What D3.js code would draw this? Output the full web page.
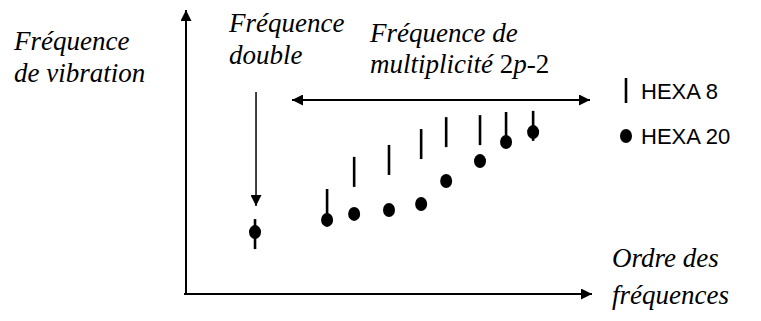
<!DOCTYPE html>
<html><head><meta charset="utf-8">
<script src="https://cdn.jsdelivr.net/npm/d3@7"></script>
<style>
html,body{margin:0;padding:0;background:#fff;}
svg{display:block;}
</style></head>
<body>
<svg id="c" width="761" height="321"></svg>
<script>
// Data (order of frequency, vibration frequency) in arbitrary units
const ordre = [2.04, 4.17, 4.97, 6.0, 6.95, 7.69, 8.69, 9.46, 10.26];
const hexa20 = [2.18, 2.61, 2.82, 2.96, 3.17, 3.98, 4.68, 5.35, 5.70];
const hexa8 = [2.11, 3.17, 4.30, 4.72, 5.28, 5.70, 5.77, 5.88, 5.92];
const seriesNames = ["HEXA 8", "HEXA 20"];

const SERIF = "'Liberation Serif'";
const SANS = "'Liberation Sans'";

const svg = d3.select("#c");
const x = d3.scaleLinear().domain([0, 12]).range([186, 592]);
const y = d3.scaleLinear().domain([0, 10]).range([294, 10]);

const defs = svg.append("defs");
function marker(id, w, h) {
  defs.append("marker").attr("id", id).attr("viewBox", "0 0 10 10")
    .attr("refX", 10).attr("refY", 5).attr("markerUnits", "userSpaceOnUse")
    .attr("markerWidth", w).attr("markerHeight", h).attr("orient", "auto-start-reverse")
    .append("path").attr("d", "M0,0L10,5L0,10Z").attr("fill", "#000");
}
marker("ah", 13, 11);

// axes
svg.append("line").attr("x1", x(0)).attr("y1", y(0)+1).attr("x2", x(0)).attr("y2", y(10))
  .attr("stroke", "#000").attr("stroke-width", 2).attr("marker-end", "url(#ah)");
svg.append("line").attr("x1", x(0)-2).attr("y1", y(0)).attr("x2", x(12)).attr("y2", y(0))
  .attr("stroke", "#000").attr("stroke-width", 2).attr("marker-end", "url(#ah)");

// HEXA 8 : vertical bars
svg.append("g").selectAll("line").data(ordre).join("line")
  .attr("x1", d => x(d)).attr("x2", d => x(d))
  .attr("y1", (d, i) => y(hexa8[i]) - 15).attr("y2", (d, i) => y(hexa8[i]) + 15)
  .attr("stroke", "#000").attr("stroke-width", 2.6);
// HEXA 20 : dots
svg.append("g").selectAll("ellipse").data(ordre).join("ellipse")
  .attr("cx", d => x(d)).attr("cy", (d, i) => y(hexa20[i]))
  .attr("rx", 6).attr("ry", 7).attr("fill", "#000");

// annotation arrows
svg.append("line").attr("x1", x(ordre[0]) + 1).attr("y1", 92).attr("x2", x(ordre[0]) + 1).attr("y2", 206)
  .attr("stroke", "#000").attr("stroke-width", 1.5).attr("marker-end", "url(#ah)");
svg.append("line").attr("x1", 292).attr("y1", 100).attr("x2", 590).attr("y2", 100)
  .attr("stroke", "#000").attr("stroke-width", 2)
  .attr("marker-end", "url(#ah)").attr("marker-start", "url(#ah)");

// texts
function ann(xp, yp, lines, lh) {
  const t = svg.append("text").attr("x", xp).attr("y", yp)
    .attr("font-family", SERIF).attr("font-style", "italic").attr("font-size", 27).attr("fill", "#000");
  lines.forEach((l, i) => {
    const ts = t.append("tspan").attr("x", xp).attr("dy", i ? lh : 0);
    if (Array.isArray(l)) l.forEach(p => ts.append("tspan").attr("font-style", p[1] ? "italic" : "normal").text(p[0]));
    else ts.text(l);
  });
}
ann(14, 50, ["Fréquence", "de vibration"], 32);
ann(229, 32, ["Fréquence", "double"], 32);
ann(370, 42, ["Fréquence de", [["multiplicité ", 1], ["2", 0], ["p", 1], ["-2", 0]]], 31);
ann(612, 267, ["Ordre des", "fréquences"], 37);

// legend
const lg = svg.append("g");
lg.append("line").attr("x1", 626).attr("x2", 626).attr("y1", 78).attr("y2", 103)
  .attr("stroke", "#000").attr("stroke-width", 2.6);
lg.append("ellipse").attr("cx", 626).attr("cy", 136).attr("rx", 6).attr("ry", 7).attr("fill", "#000");
lg.selectAll("text").data(seriesNames).join("text")
  .attr("font-family", SANS).attr("font-size", 22).attr("fill", "#000")
  .attr("x", 641).attr("y", (d, i) => 99 + i * 45).text(d => d);
</script>
</body></html>
